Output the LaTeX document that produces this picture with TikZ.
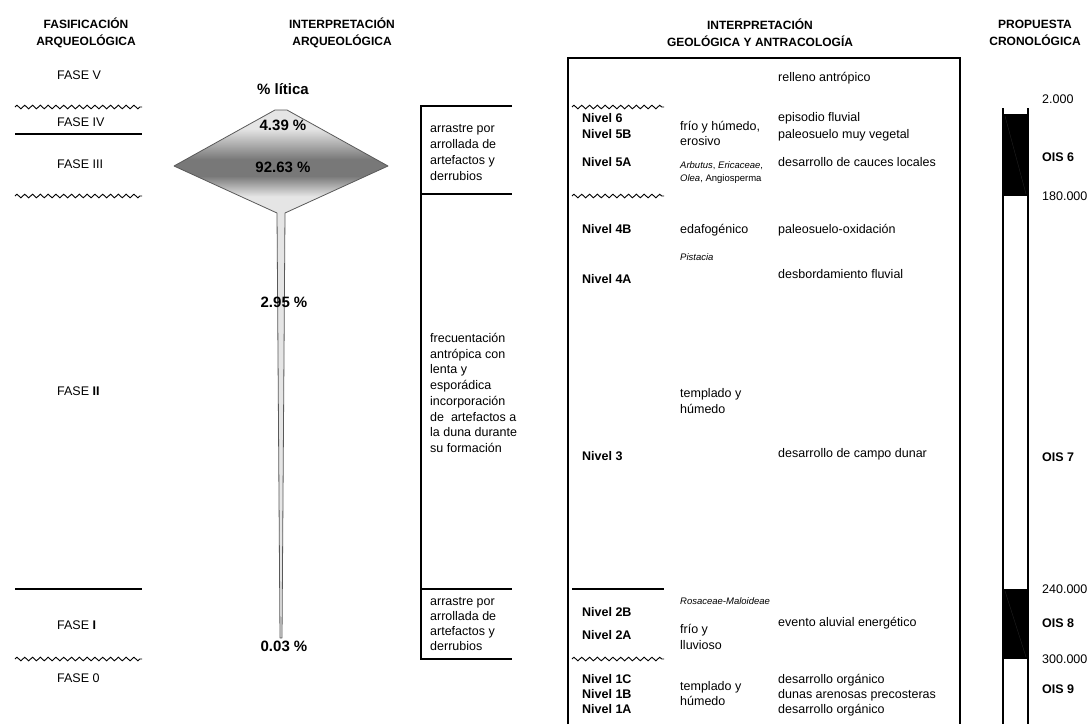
\documentclass[tikz,border=0pt]{standalone}
\usepackage{fontspec}
\setmainfont{Liberation Sans}
\usetikzlibrary{decorations.pathmorphing}
\definecolor{lg}{gray}{0.9}
\definecolor{dg}{gray}{0.47}
\definecolor{edge}{gray}{0.35}
\pgfdeclareverticalshading{diamshade}{100bp}{color(0bp)=(lg); color(33bp)=(lg); color(43bp)=(dg); color(51bp)=(dg); color(66bp)=(lg); color(100bp)=(lg)}
\begin{document}
\begin{tikzpicture}[x=1pt,y=-1pt,
  txt/.style={inner sep=0pt, anchor=west, text height=9pt, text depth=0pt, font=\fontsize{12.5}{15}\selectfont},
  btxt/.style={txt, font=\fontsize{12.5}{15}\selectfont\bfseries},
  itxt/.style={inner sep=0pt, anchor=west, text height=7pt, text depth=0pt, font=\fontsize{9.5}{11}\selectfont\itshape},
  head/.style={inner sep=0pt, align=center, font=\fontsize{12}{17}\selectfont\bfseries},
  pct/.style={inner sep=0pt, text height=11pt, text depth=0pt, font=\fontsize{15}{18}\selectfont\bfseries},
  wavy/.style={line width=0.9pt, decorate, decoration={zigzag, segment length=7.8pt, amplitude=1.8pt}},
  rulebar/.style={line width=1.5pt},
  frame/.style={line width=1.3pt},
]
\useasboundingbox (0,0) rectangle (1090,724);

% headers
\node[head] (h1) at (86,33) {FASIFICACIÓN\\ARQUEOLÓGICA};
\node[head] (h2) at (342,33) {INTERPRETACIÓN\\ARQUEOLÓGICA};
\node[head] (h3) at (760,33) {INTERPRETACIÓN\\GEOLÓGICA Y ANTRACOLOGÍA};
\node[head] (h4) at (1035,33) {PROPUESTA\\CRONOLÓGICA};

% left column: phases
\node[txt] (f5) at (57,75) {FASE V};
\draw[wavy] (15,107) -- (142,107);
\node[txt] (f4) at (57,122) {FASE IV};
\draw[rulebar] (15,134) -- (142,134);
\node[txt] (f3) at (57,164) {FASE III};
\draw[wavy] (15,196) -- (142,196);
\node[txt] (f2) at (57,391) {FASE \textbf{II}};
\draw[rulebar] (15,589) -- (142,589);
\node[txt] (f1) at (57,625) {FASE \textbf{I}};
\draw[wavy] (15,659) -- (142,659);
\node[txt] (f0) at (57,678) {FASE 0};

% lithic percentage figure
\shade[shading=diamshade] (275,110) -- (287,110) -- (388,166) -- (285,213) -- (277,213) -- (174,166) -- cycle;
\fill[lg] (277,213) -- (285,213) -- (282,638) -- (280,638) -- cycle;
\draw[edge, line width=0.8pt, line join=round] (275,110) -- (287,110) -- (388,166) -- (285,213) -- (282,638) -- (280,638) -- (277,213) -- (174,166) -- cycle;
\node[pct] (plit) at (283,89) {\% lítica};
\node[pct] (p1) at (283,125) {4.39 \%};
\node[pct] (p2) at (283,167) {92.63 \%};
\node[pct] (p3) at (284,302) {2.95 \%};
\node[pct] (p4) at (284,646) {0.03 \%};

% archaeological interpretation brackets
\draw[frame] (512,106) -- (421,106) -- (421,659) -- (512,659);
\draw[frame] (421,194) -- (512,194);
\draw[frame] (421,589) -- (512,589);
\node[txt] (a1) at (430,128) {arrastre por};
\node[txt] (a2) at (430,144) {arrollada de};
\node[txt] (a3) at (430,160) {artefactos y};
\node[txt] (a4) at (430,176) {derrubios};
\node[txt] (b1) at (430,338) {frecuentación};
\node[txt] (b2) at (430,354) {antrópica con};
\node[txt] (b3) at (430,369) {lenta y};
\node[txt] (b4) at (430,385) {esporádica};
\node[txt] (b5) at (430,401) {incorporación};
\node[txt] (b6) at (430,417) {de\ \ artefactos a};
\node[txt] (b7) at (430,432) {la duna durante};
\node[txt] (b8) at (430,448) {su formación};
\node[txt] (c1) at (430,601) {arrastre por};
\node[txt] (c2) at (430,616) {arrollada de};
\node[txt] (c3) at (430,631) {artefactos y};
\node[txt] (c4) at (430,646) {derrubios};

% geological interpretation box
\draw[frame] (568,724) -- (568,58) -- (960,58) -- (960,724);
\node[txt] (g0) at (778,77) {relleno antrópico};
\draw[wavy] (572,107) -- (664,107);
\node[btxt] (n6) at (582,118) {Nivel 6};
\node[btxt] (n5b) at (582,134) {Nivel 5B};
\node[btxt] (n5a) at (582,162) {Nivel 5A};
\node[txt] (e1) at (680,126) {frío y húmedo,};
\node[txt] (e2) at (680,141) {erosivo};
\node[itxt] (e3) at (680,165) {Arbutus\upshape, \itshape Ericaceae\upshape,};
\node[itxt] (e4) at (680,178) {Olea\upshape, Angiosperma};
\node[txt] (g1) at (778,117) {episodio fluvial};
\node[txt] (g2) at (778,134) {paleosuelo muy vegetal};
\node[txt] (g3) at (778,162) {desarrollo de cauces locales};
\draw[wavy] (572,196) -- (664,196);
\node[btxt] (n4b) at (582,229) {Nivel 4B};
\node[txt] (e5) at (680,229) {edafogénico};
\node[txt] (g4) at (778,229) {paleosuelo-oxidación};
\node[itxt] (e6) at (680,257) {Pistacia};
\node[btxt] (n4a) at (582,279) {Nivel 4A};
\node[txt] (g5) at (778,274) {desbordamiento fluvial};
\node[txt] (e7) at (680,393) {templado y};
\node[txt] (e8) at (680,409) {húmedo};
\node[btxt] (n3) at (582,456) {Nivel 3};
\node[txt] (g6) at (778,453) {desarrollo de campo dunar};
\draw[line width=1.2pt] (572,589) -- (664,589);
\node[itxt] (e9) at (680,601) {Rosaceae-Maloideae};
\node[btxt] (n2b) at (582,612) {Nivel 2B};
\node[btxt] (n2a) at (582,635) {Nivel 2A};
\node[txt] (e10) at (680,629) {frío y};
\node[txt] (e11) at (680,645) {lluvioso};
\node[txt] (g7) at (778,622) {evento aluvial energético};
\draw[wavy] (572,659) -- (664,659);
\node[btxt] (n1c) at (582,679) {Nivel 1C};
\node[btxt] (n1b) at (582,694) {Nivel 1B};
\node[btxt] (n1a) at (582,709) {Nivel 1A};
\node[txt] (e12) at (680,686) {templado y};
\node[txt] (e13) at (680,701) {húmedo};
\node[txt] (g8) at (778,679) {desarrollo orgánico};
\node[txt] (g9) at (778,694) {dunas arenosas precosteras};
\node[txt] (g10) at (778,709) {desarrollo orgánico};

% chronology bar
\fill (1003,114) rectangle (1028,196);
\fill (1003,589) rectangle (1028,659);
\draw[gray!25!black, line width=0.4pt] (1005,116) -- (1026,194);
\draw[gray!25!black, line width=0.4pt] (1005,591) -- (1026,657);
\draw[frame] (1003,108) -- (1003,724);
\draw[frame] (1028,108) -- (1028,724);
\node[txt] (k1) at (1042,99) {2.000};
\node[btxt] (o6) at (1042,157) {OIS 6};
\node[txt] (k2) at (1042,196) {180.000};
\node[btxt] (o7) at (1042,457) {OIS 7};
\node[txt] (k3) at (1042,589) {240.000};
\node[btxt] (o8) at (1042,623) {OIS 8};
\node[txt] (k4) at (1042,659) {300.000};
\node[btxt] (o9) at (1042,689) {OIS 9};
\end{tikzpicture}
\end{document}
